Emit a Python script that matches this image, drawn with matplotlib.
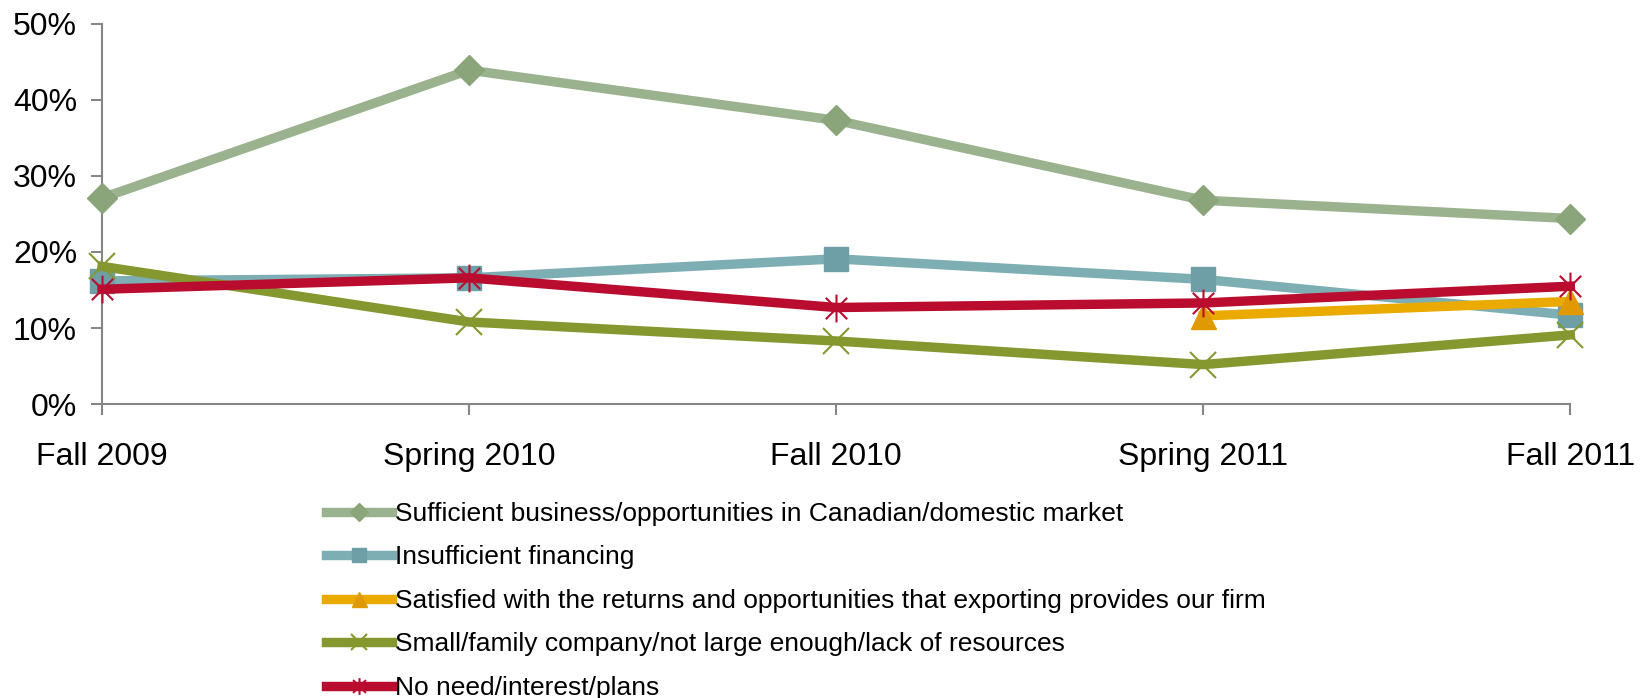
import numpy as np
import matplotlib
matplotlib.use("Agg")
from matplotlib import pyplot as plt
from matplotlib.path import Path
from matplotlib.ticker import PercentFormatter

plt.rcParams['font.family'] = ['Liberation Sans', 'DejaVu Sans']

# 数据
periods = ["Fall 2009", "Spring 2010", "Fall 2010", "Spring 2011", "Fall 2011"]
sufficient = [27.1, 43.9, 37.3, 26.8, 24.4]
financing = [16.2, 16.6, 19.1, 16.4, 11.7]
satisfied = [np.nan, np.nan, np.nan, 11.6, 13.5]
small_firm = [18.1, 10.8, 8.3, 5.2, 9.1]
no_need = [15.1, 16.6, 12.7, 13.3, 15.5]

labels = [
    "Sufficient business/opportunities in Canadian/domestic market",
    "Insufficient financing",
    "Satisfied with the returns and opportunities that exporting provides our firm",
    "Small/family company/not large enough/lack of resources",
    "No need/interest/plans",
]

# Excel 风格的星形标记
star = Path([(-1, -1), (1, 1), (-1, 1), (1, -1), (0, -1.3), (0, 1.3)],
            [Path.MOVETO, Path.LINETO, Path.MOVETO, Path.LINETO, Path.MOVETO, Path.LINETO])

fig = plt.figure(figsize=(16.46, 6.98), dpi=100)
ax = fig.add_axes([0.062, 0.421, 0.892, 0.545])

x = np.arange(len(periods))
lw = 6.8
ax.plot(x, sufficient, color="#9BB28E", lw=lw, marker="D", ms=15,
        mfc="#8AA57A", mec="#8AA57A", label=labels[0], zorder=3)
ax.plot(x, financing, color="#7DAEB4", lw=lw, marker="s", ms=17,
        mfc="#6E9FA6", mec="#6E9FA6", label=labels[1], zorder=3)
ax.plot(x, satisfied, color="#EBAA00", lw=lw, marker="^", ms=18,
        mfc="#E09A00", mec="#E09A00", label=labels[2], zorder=4)
ax.plot(x, small_firm, color="#84982F", lw=lw, marker="x", ms=19, mew=1.5,
        mec="#84982F", label=labels[3], zorder=3)
ax.plot(x, no_need, color="#BA0C2F", lw=lw, marker=star, ms=20, mew=1.5,
        mec="#BA0C2F", label=labels[4], zorder=5)

ax.set_xlim(0, 4)
ax.set_ylim(0, 50)
ax.set_yticks([0, 10, 20, 30, 40, 50])
ax.yaxis.set_major_formatter(PercentFormatter(decimals=0))
ax.set_xticks(x)
ax.set_xticklabels(periods)
for s in ["top", "right"]:
    ax.spines[s].set_visible(False)
for s in ["left", "bottom"]:
    ax.spines[s].set_color("#868686")
    ax.spines[s].set_linewidth(1.5)
ax.tick_params(axis="both", colors="#868686", labelcolor="black",
               labelsize=23, length=8, width=1.5)
ax.tick_params(axis="x", pad=19)
ax.tick_params(axis="y", pad=10)
for line in ax.lines:
    line.set_clip_on(False)

fig.legend(loc="upper left", bbox_to_anchor=(0.19, 0.3), frameon=False,
           fontsize=19, handlelength=2.5, handletextpad=0.1,
           labelspacing=0.74, borderpad=0, markerscale=0.6)

plt.savefig("out.png", dpi=100)
